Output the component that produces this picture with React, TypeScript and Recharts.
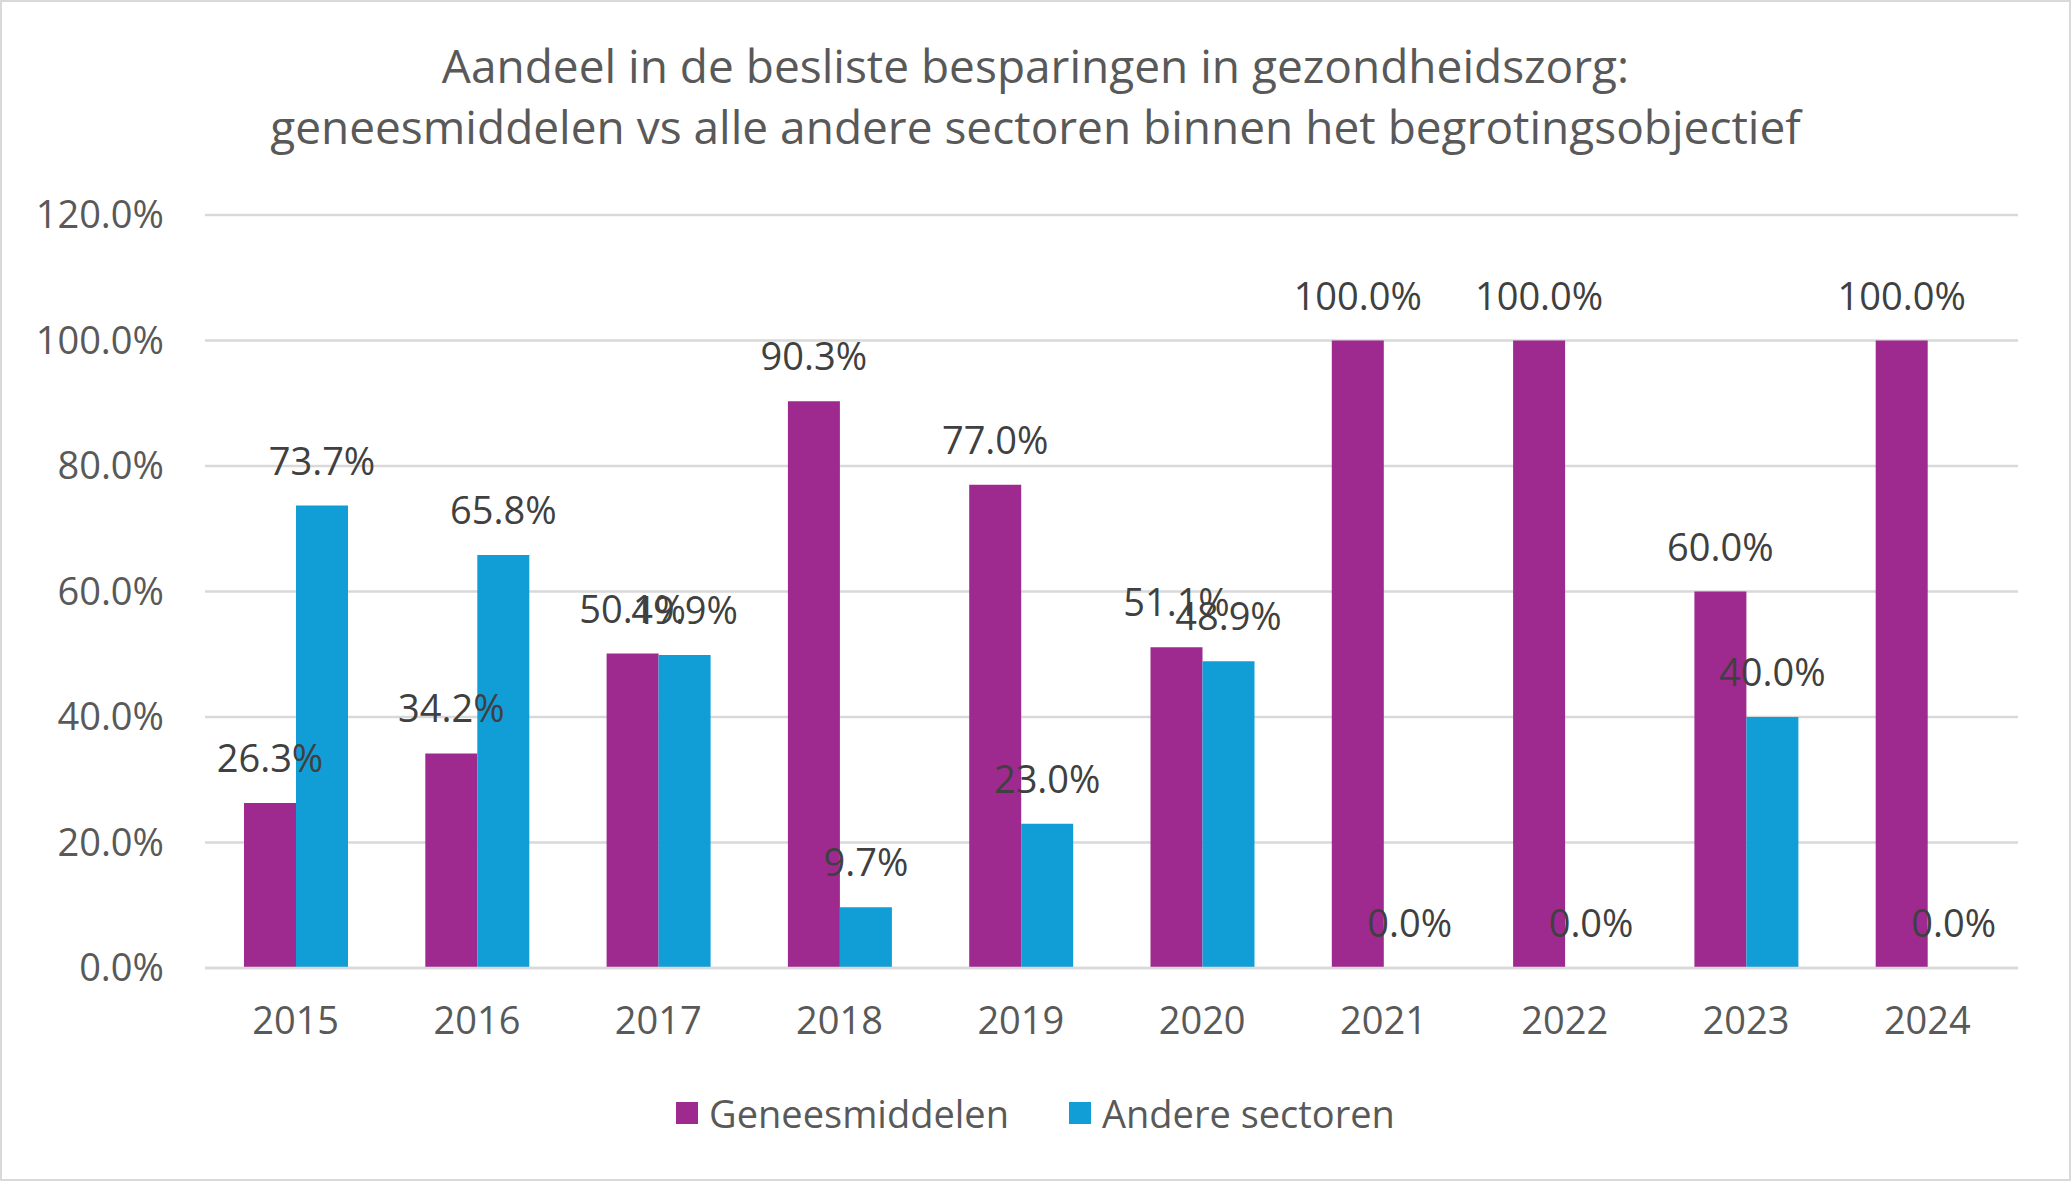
import React from "react";
import {
  BarChart,
  Bar,
  XAxis,
  YAxis,
  CartesianGrid,
  Legend,
  LabelList,
} from "recharts";

const years = ["2015", "2016", "2017", "2018", "2019", "2020", "2021", "2022", "2023", "2024"];
const geneesmiddelen = [26.3, 34.2, 50.1, 90.3, 77.0, 51.1, 100.0, 100.0, 60.0, 100.0];
const andereSectoren = [73.7, 65.8, 49.9, 9.7, 23.0, 48.9, 0.0, 0.0, 40.0, 0.0];
const yTicks = [0, 20, 40, 60, 80, 100, 120];
const seriesNames = ["Geneesmiddelen", "Andere sectoren"];
const titleLines = [
  "Aandeel in de besliste besparingen in gezondheidszorg:",
  "geneesmiddelen vs alle andere sectoren binnen het begrotingsobjectief",
];

const PURPLE = "#9F2A8F";
const BLUE = "#119ED6";
const GRID = "#D9D9D9";
const FONT = "'Open Sans', sans-serif";

const data = years.map((year, i) => ({
  year,
  gen: geneesmiddelen[i],
  andere: andereSectoren[i],
}));

const pct = (v: any) => `${Number(v).toFixed(1)}%`;

// zero bars still need their "0.0%" label, so give them a hair of height
const tinyForZero = (v: any) => (Number(v) === 0 ? 0.01 : 0);

function LegendBox({ payload }: any) {
  const items = [...(payload || [])].sort(
    (a: any, b: any) => seriesNames.indexOf(a.value) - seriesNames.indexOf(b.value)
  );
  return (
    <div
      style={{
        height: 60,
        display: "flex",
        justifyContent: "center",
        alignItems: "center",
        gap: 60,
        fontFamily: FONT,
        fontSize: 38,
        color: "#595959",
      }}
    >
      {items.map((p: any) => (
        <div key={p.value} style={{ display: "flex", alignItems: "center" }}>
          <span style={{ width: 22, height: 22, background: p.color, marginRight: 11 }} />
          <span>{p.value}</span>
        </div>
      ))}
    </div>
  );
}

export default function App() {
  return (
    <div style={{ position: "absolute", left: 0, top: 0, width: 2071, height: 1181, background: "#fff" }}>
      <div
        style={{
          position: "absolute",
          top: 35,
          left: 0,
          width: 2071,
          textAlign: "center",
          fontFamily: FONT,
          fontSize: 46,
          lineHeight: "61px",
          color: "#595959",
        }}
      >
        {titleLines.map((t) => (
          <div key={t}>{t}</div>
        ))}
      </div>
      <BarChart
        width={2071}
        height={1181}
        data={data}
        margin={{ top: 215, right: 53, left: 0, bottom: 38 }}
        barGap={0}
      >
        <CartesianGrid vertical={false} stroke={GRID} strokeWidth={2.5} />
        <XAxis
          dataKey="year"
          height={115}
          axisLine={{ stroke: GRID, strokeWidth: 2.5 }}
          tickLine={false}
          tickSize={0}
          tickMargin={39}
          tick={{ fontSize: 38, fontFamily: FONT, fill: "#595959" }}
        />
        <YAxis
          width={205}
          domain={[0, 120]}
          ticks={yTicks}
          axisLine={false}
          tickLine={false}
          tickSize={0}
          tickMargin={41}
          tickFormatter={pct}
          tick={{ fontSize: 38, fontFamily: FONT, fill: "#595959" }}
        />
        <Legend
          verticalAlign="bottom"
          content={<LegendBox />}
          wrapperStyle={{ left: 0, width: 2071, bottom: 38 }}
        />
        <Bar
          dataKey="gen"
          name={seriesNames[0]}
          fill={PURPLE}
          barSize={52}
          minPointSize={tinyForZero}
          isAnimationActive={false}
        >
          <LabelList
            dataKey="gen"
            position="top"
            offset={31}
            formatter={pct}
            style={{ fontSize: 38, fontFamily: FONT, fill: "#404040" }}
          />
        </Bar>
        <Bar
          dataKey="andere"
          name={seriesNames[1]}
          fill={BLUE}
          barSize={52}
          minPointSize={tinyForZero}
          isAnimationActive={false}
        >
          <LabelList
            dataKey="andere"
            position="top"
            offset={31}
            formatter={pct}
            style={{ fontSize: 38, fontFamily: FONT, fill: "#404040" }}
          />
        </Bar>
      </BarChart>
      <div
        style={{
          position: "absolute",
          inset: 0,
          border: `2px solid ${GRID}`,
          pointerEvents: "none",
        }}
      />
    </div>
  );
}
